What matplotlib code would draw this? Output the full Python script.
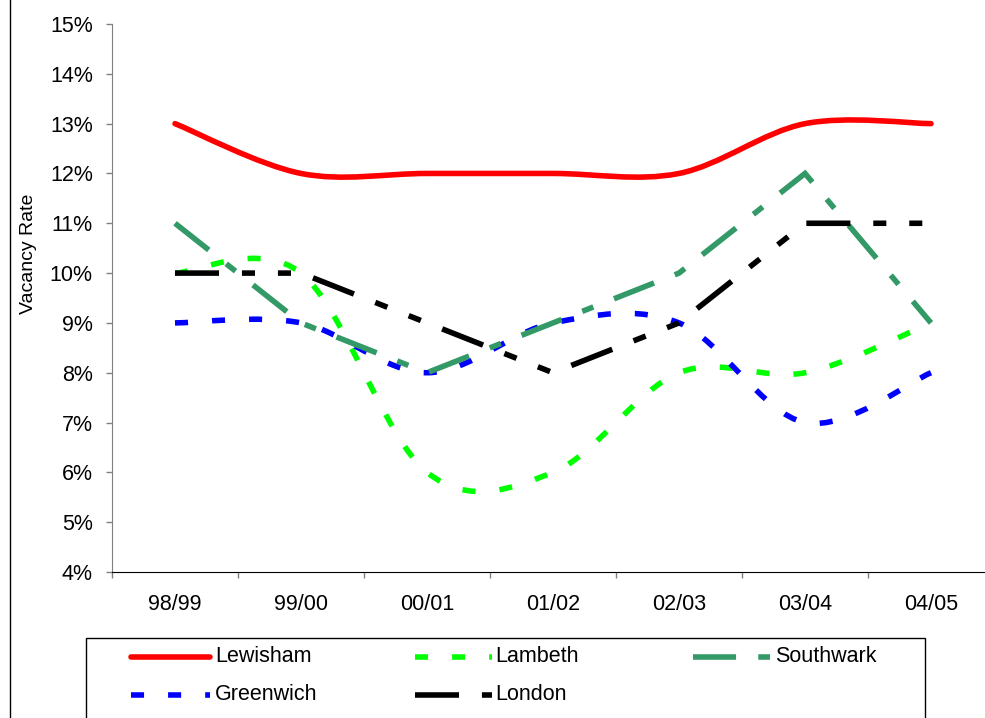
import matplotlib
matplotlib.use('Agg')
import matplotlib.pyplot as plt
import numpy as np
from matplotlib.path import Path
from matplotlib.patches import PathPatch, Rectangle
from matplotlib.lines import Line2D
from matplotlib.ticker import FixedLocator, FuncFormatter

plt.rcParams['font.family'] = ['Liberation Sans', 'DejaVu Sans']
plt.rcParams['lines.scale_dashes'] = False

years = ['98/99', '99/00', '00/01', '01/02', '02/03', '03/04', '04/05']
lewisham = [13, 12, 12, 12, 12, 13, 13]
lambeth = [10, 10, 6, 6, 8, 8, 9]
southwark = [11, 9, 8, 9, 10, 12, 9]
greenwich = [9, 9, 8, 9, 9, 7, 8]
london = [10, 10, 9, 8, 9, 11, 11]

W, H = 985, 718
LW = 4
FS = 15.5


def smooth_path(vals):
    # smoothed line: one cubic bezier per segment, tangents taken from the neighbours
    pts = np.column_stack([np.arange(len(vals), dtype=float), np.asarray(vals, dtype=float)])
    n = len(pts)
    verts, codes = [pts[0]], [Path.MOVETO]
    for i in range(n - 1):
        prev = pts[max(i - 1, 0)]
        nxt = pts[min(i + 2, n - 1)]
        verts += [pts[i] + (pts[i + 1] - prev) / 6, pts[i + 1] - (nxt - pts[i]) / 6, pts[i + 1]]
        codes += [Path.CURVE4] * 3
    return Path(verts, codes)


styles = {
    'Lewisham': dict(color='#FF0000', ls='-', smooth=True),
    'Lambeth': dict(color='#00FF00', ls=(0, (9.4, 17.3)), smooth=True),
    'Southwark': dict(color='#339966', ls=(0, (31, 16, 8.6, 16)), smooth=False),
    'Greenwich': dict(color='#0000FF', ls=(0, (9.4, 17.3)), smooth=True),
    'London': dict(color='#000000', ls=(0, (31.7, 16.5, 9.4, 16.5, 9.4, 16.5)), smooth=False),
}
series = {'Lewisham': lewisham, 'Lambeth': lambeth, 'Southwark': southwark,
          'Greenwich': greenwich, 'London': london}

fig = plt.figure(figsize=(W / 100, H / 100), dpi=100)
ax = fig.add_axes([112 / W, 1 - 572 / H, 882 / W, 548 / H])

for name, vals in series.items():
    st = styles[name]
    cap = 'round' if st['ls'] == '-' else 'butt'
    if st['smooth']:
        patch = PathPatch(smooth_path(vals), fill=False, edgecolor=st['color'],
                          lw=LW, linestyle=st['ls'], capstyle=cap, joinstyle='round')
        ax.add_patch(patch)
    else:
        ax.plot(range(len(vals)), vals, color=st['color'], lw=LW, ls=st['ls'],
                dash_capstyle=cap, solid_capstyle=cap, dash_joinstyle='miter')

ax.set_xlim(-0.5, len(years) - 0.5)
ax.set_ylim(4, 15)
ax.yaxis.set_major_locator(FixedLocator(range(4, 16)))
ax.yaxis.set_major_formatter(FuncFormatter(lambda v, p: '%d%%' % v))
ax.set_xticks(range(len(years)))
ax.set_xticklabels(years)
ax.xaxis.set_minor_locator(FixedLocator(np.arange(-0.5, len(years), 1.0)))
ax.tick_params(axis='x', which='major', length=0, pad=16, labelsize=FS)
ax.tick_params(axis='x', which='minor', length=4.3, width=1, color='#808080', direction='out')
ax.tick_params(axis='y', length=4.3, width=1, color='#808080', pad=9.5, labelsize=FS)
for s in ['top', 'right']:
    ax.spines[s].set_visible(False)
ax.spines['left'].set_color('#808080')
ax.spines['bottom'].set_color('#000000')

ax.set_ylabel('Vacancy Rate', fontsize=14)
ax.yaxis.set_label_coords(-0.085, 0.58)

# frame edge on the left of the chart area
fig.add_artist(Line2D([10 / W, 10 / W], [0, 1], color='black', lw=1))

# legend box, laid out in rows of three
fig.add_artist(Rectangle((86 / W, 1 - 760 / H), 839 / W, 122 / H, fill=False,
                         edgecolor='black', lw=1, clip_on=False))
slots = [((131, 210), 215, 657), ((415, 492), 495, 657), ((693, 770), 775, 657),
         ((131, 210), 215, 695), ((415, 492), 495, 695)]
for (name, st), ((x0, x1), tx, ty) in zip(styles.items(), slots):
    cap = 'round' if st['ls'] == '-' else 'butt'
    fig.add_artist(Line2D([x0 / W, x1 / W], [1 - ty / H, 1 - ty / H], color=st['color'],
                          lw=LW, ls=st['ls'], solid_capstyle=cap, dash_capstyle=cap))
    fig.text(tx / W, 1 - ty / H, name, fontsize=FS, va='center', ha='left')

fig.savefig('out.png', dpi=100)
